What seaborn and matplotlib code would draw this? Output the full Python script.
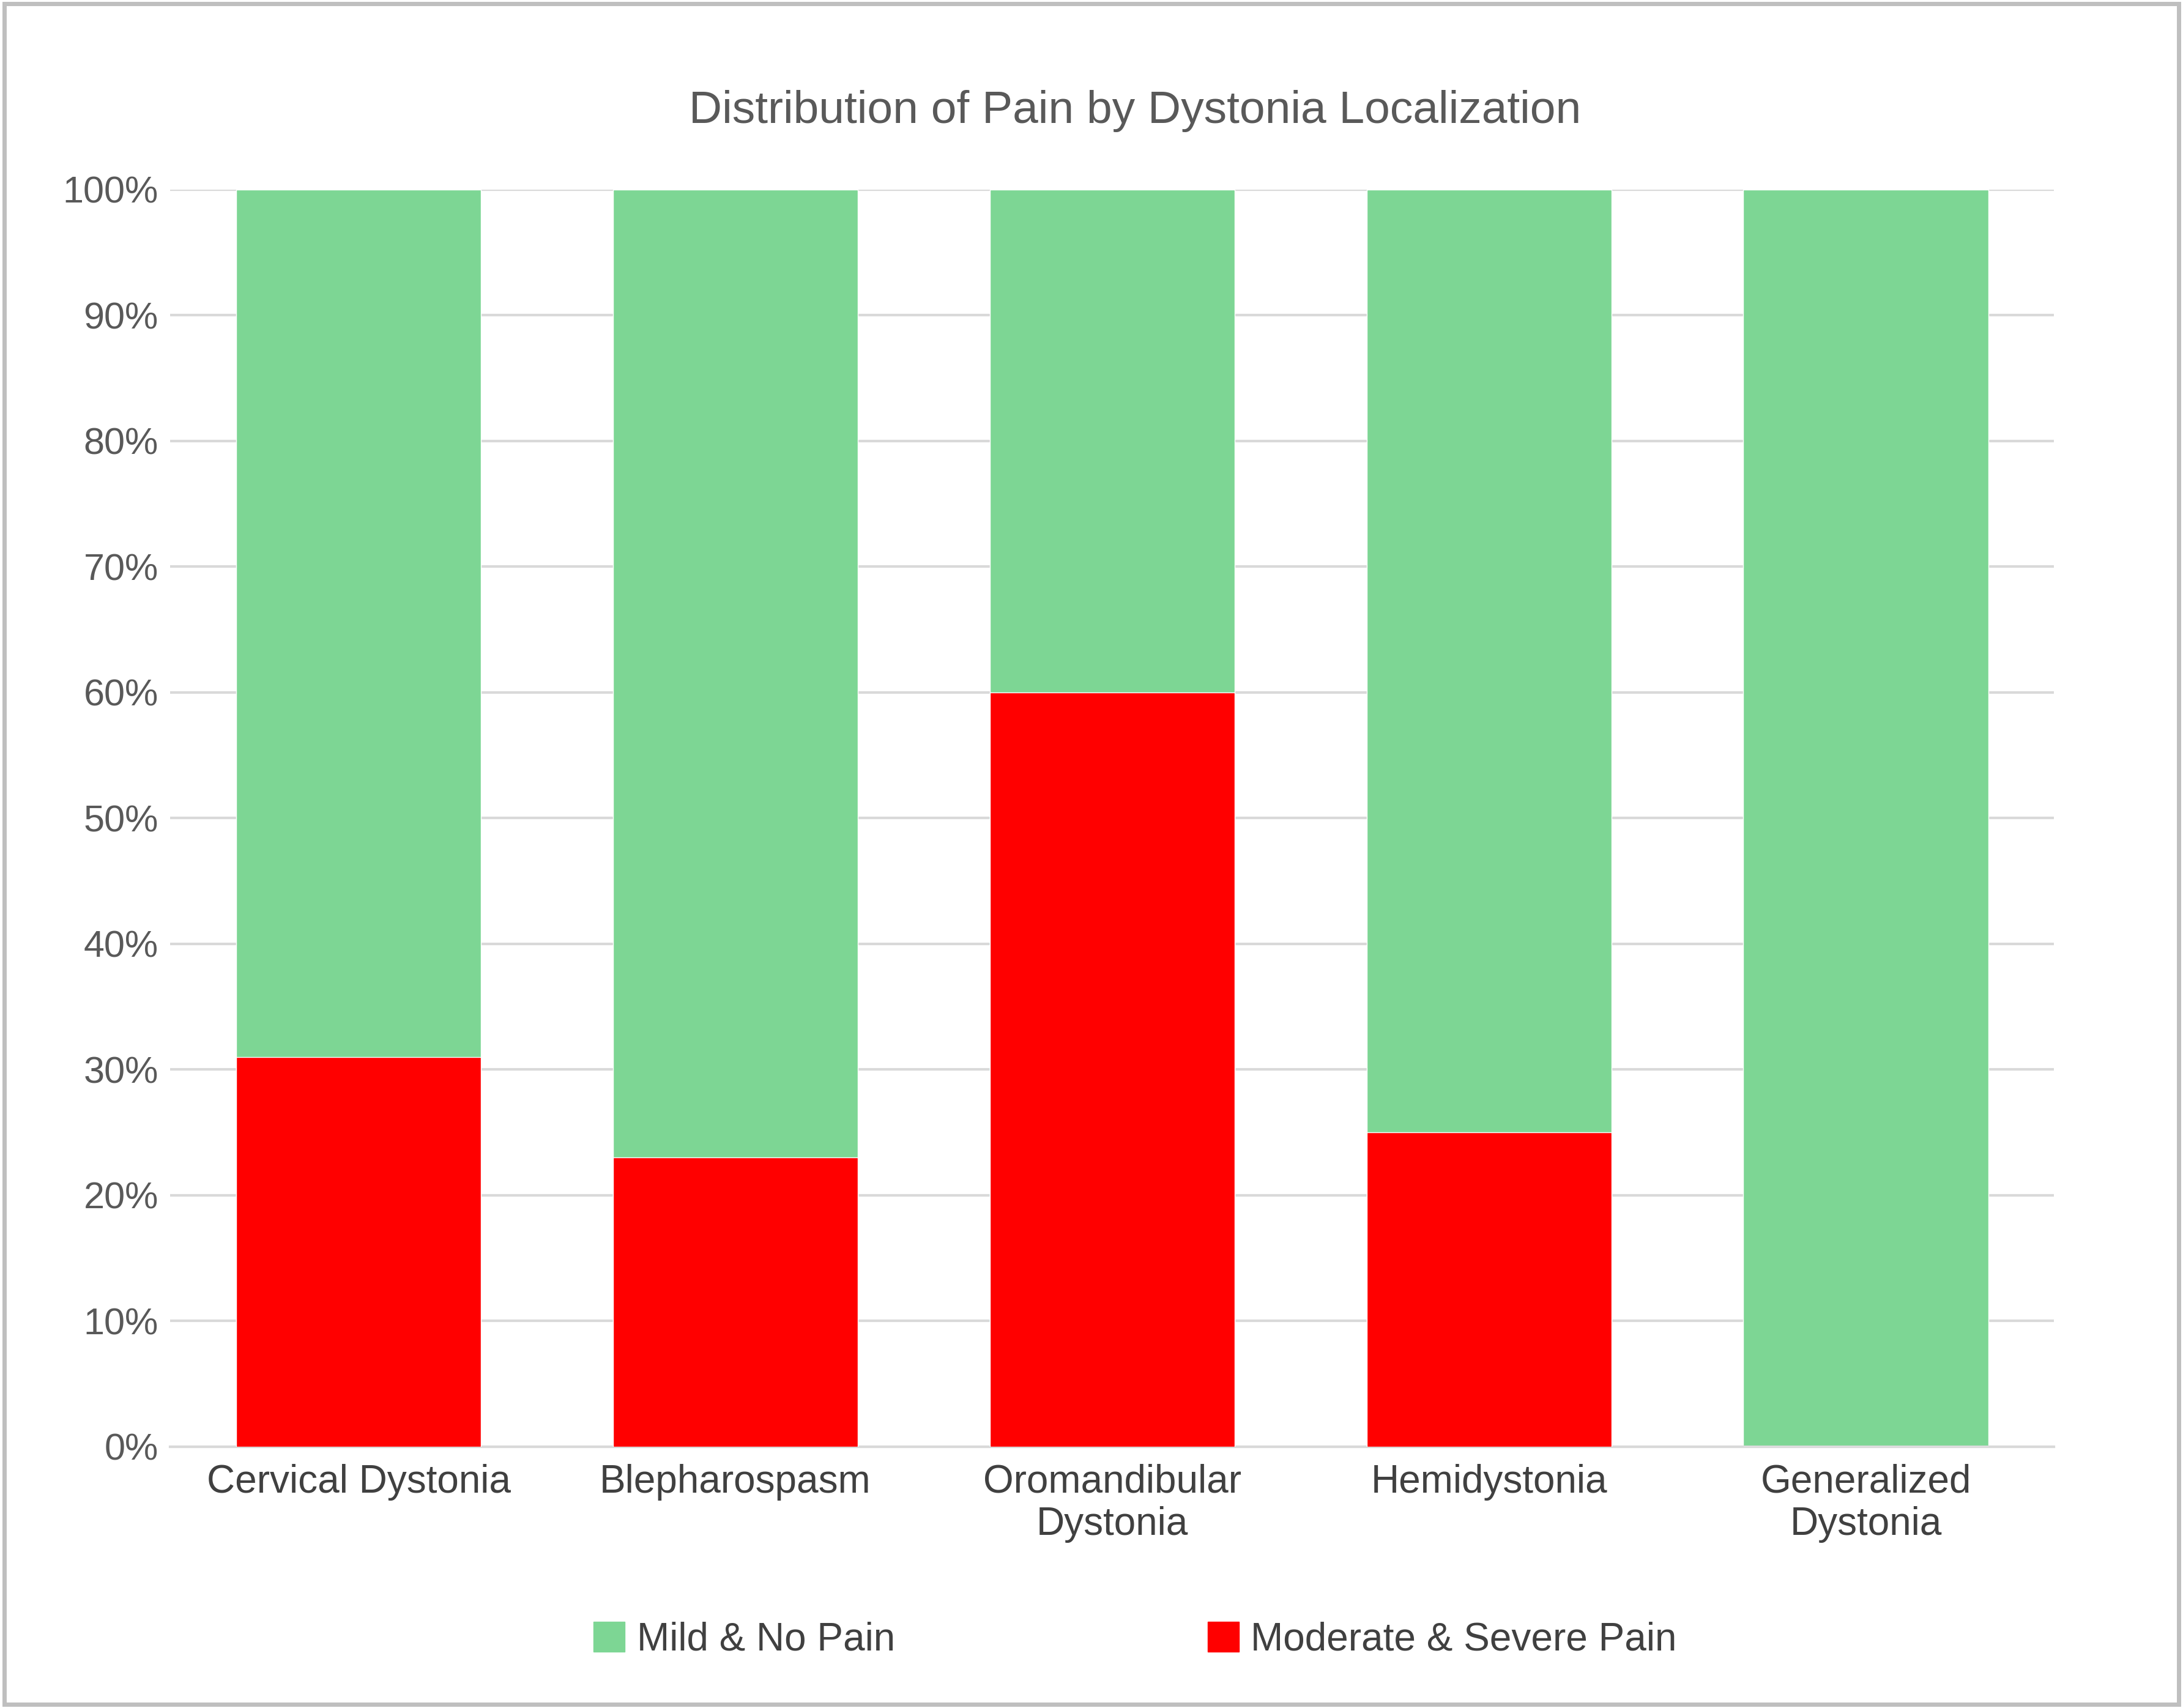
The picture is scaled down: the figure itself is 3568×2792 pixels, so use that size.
import matplotlib
matplotlib.use("Agg")
import matplotlib.pyplot as plt
import seaborn as sns
import pandas as pd
from matplotlib.patches import Patch

categories = ["Cervical Dystonia", "Blepharospasm", "Oromandibular\nDystonia",
              "Hemidystonia", "Generalized\nDystonia"]
severe_pain = [31, 23, 60, 25, 0]
mild_pain = [100 - v for v in severe_pain]

green = "#7dd694"
red = "#ff0000"

df = pd.DataFrame({"cat": categories, "severe": severe_pain,
                   "total": [s + m for s, m in zip(severe_pain, mild_pain)]})

sns.set_style("white")
plt.rcParams['font.family'] = ['Liberation Sans', 'DejaVu Sans']

fig = plt.figure(figsize=(35.68, 27.92), dpi=100)
ax = fig.add_axes([0.078, 0.153, 0.863, 0.736])

sns.barplot(data=df, x="cat", y="total", color=green, width=0.65,
            saturation=1, ax=ax, zorder=2)
sns.barplot(data=df, x="cat", y="severe", color=red, width=0.65,
            saturation=1, ax=ax, zorder=3)

ax.set_ylim(0, 100)
ax.set_xlim(-0.5, 4.5)
ax.set_yticks(range(0, 101, 10))
ax.set_yticklabels([f"{v}%" for v in range(0, 101, 10)], fontsize=44, color="#595959")
ax.tick_params(axis="x", labelsize=46, colors="#404040", pad=20, length=0)
ax.tick_params(axis="y", length=0, pad=14)
ax.set_xlabel("")
ax.set_ylabel("")
ax.yaxis.grid(True, color="#d9d9d9", linewidth=3, zorder=0)
ax.set_axisbelow(True)
for s in ["top", "right", "left"]:
    ax.spines[s].set_visible(False)
ax.spines["bottom"].set_color("#d9d9d9")
ax.spines["bottom"].set_linewidth(3)

fig.text(0.52, 0.935, "Distribution of Pain by Dystonia Localization",
         ha="center", va="center", fontsize=54, color="#595959")

handles = [Patch(color=green, label="Mild & No Pain"),
           Patch(color=red, label="Moderate & Severe Pain")]
fig.legend(handles=handles, loc="center", bbox_to_anchor=(0.52, 0.04), ncol=2,
           frameon=False, fontsize=46, handlelength=0.8, handleheight=0.8,
           columnspacing=8, handletextpad=0.3, labelcolor="#404040")

fig.patches.append(plt.Rectangle((0.002, 0.002), 0.996, 0.996, transform=fig.transFigure,
                                 fill=False, edgecolor="#bfbfbf", linewidth=5))

fig.savefig("out.png", dpi=100)
